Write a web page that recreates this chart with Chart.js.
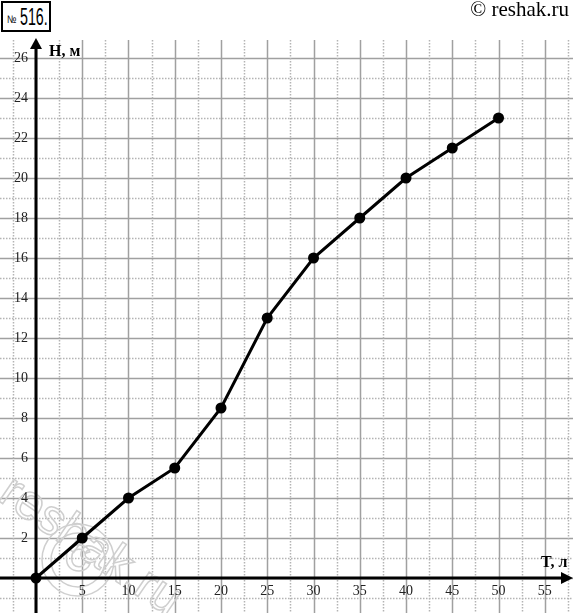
<!DOCTYPE html>
<html>
<head>
<meta charset="utf-8">
<script src="https://cdn.jsdelivr.net/npm/chart.js@4/dist/chart.umd.min.js"></script>
<style>
  body { margin: 0; background: #fff; }
  #wrap { position: relative; width: 573px; height: 613px; }
  #num {
    position: absolute; left: 1px; top: 1px; width: 46px; height: 27px;
    border: 2px solid #000; background: #fff; white-space: nowrap;
    font-family: "Liberation Sans", Arial, sans-serif; color: #000;
  }
  #num span { position: absolute; transform-origin: left top; line-height: 1; }
  #num .n { left: 4px; top: 11px; font-size: 11px; transform: scaleX(0.8); }
  #num .v { left: 17px; top: 3px; font-size: 23px; transform: scaleX(0.62); }
  #copy {
    position: absolute; right: 4px; top: -3px;
    font-family: "Liberation Serif", serif; font-size: 21px; color: #000;
  }
</style>
</head>
<body>
<div id="wrap">
  <canvas id="chart" width="573" height="613"></canvas>
  <div id="num"><span class="n">№</span><span class="v">516.</span></div>
  <div id="copy">© reshak.ru</div>
</div>
<script>
// Données : T (л) et H (м)
const tValues = [0, 5, 10, 15, 20, 25, 30, 35, 40, 45, 50];
const hValues = [0, 2, 4, 5.5, 8.5, 13, 16, 18, 20, 21.5, 23];
const xTickLabels = [5, 10, 15, 20, 25, 30, 35, 40, 45, 50, 55];
const yTickLabels = [2, 4, 6, 8, 10, 12, 14, 16, 18, 20, 22, 24, 26];

// Quadrillage, axes et textes dessinés avec les échelles du graphique
const paperPlugin = {
    id: 'paper',
    beforeDatasetsDraw(chart) {
        const ctx = chart.ctx;
        const x = chart.scales.x;
        const y = chart.scales.y;
        const W = chart.width, H = chart.height;
        const x0 = x.getPixelForValue(0);
        const y0 = y.getPixelForValue(0);
        ctx.save();

        // lignes horizontales
        for (let v = -1; v <= 26; v++) {
            const py = Math.round(y.getPixelForValue(v)) + 0.5;
            ctx.beginPath();
            if (v % 2 === 0) {
                ctx.setLineDash([]);
                ctx.strokeStyle = '#a0a0a0';
                ctx.lineWidth = 1.5;
            } else {
                ctx.setLineDash([1.5, 1.5]);
                ctx.strokeStyle = '#b4b4b4';
                ctx.lineWidth = 1.5;
            }
            ctx.moveTo(0, py);
            ctx.lineTo(W, py);
            ctx.stroke();
        }
        // lignes verticales
        const topY = y.getPixelForValue(26.9);
        for (let v = -2.5; v <= 57.5; v += 2.5) {
            const px = Math.round(x.getPixelForValue(v)) + 0.5;
            ctx.beginPath();
            if (v % 5 === 0) {
                ctx.setLineDash([]);
                ctx.strokeStyle = '#a0a0a0';
                ctx.lineWidth = 1.5;
            } else {
                ctx.setLineDash([1.5, 1.5]);
                ctx.strokeStyle = '#b4b4b4';
                ctx.lineWidth = 1.5;
            }
            ctx.moveTo(px, topY);
            ctx.lineTo(px, H);
            ctx.stroke();
        }
        ctx.setLineDash([]);

        // filigrane
        ctx.save();
        ctx.translate(78, 560);
        ctx.strokeStyle = '#cfcfcf';
        ctx.lineWidth = 1.5;
        ctx.beginPath();
        ctx.arc(0, 0, 36, 0, Math.PI * 2);
        ctx.stroke();
        ctx.beginPath();
        ctx.arc(0, 0, 27, 0, Math.PI * 2);
        ctx.stroke();
        ctx.font = 'bold 36px "Liberation Sans", sans-serif';
        ctx.textAlign = 'center';
        ctx.textBaseline = 'middle';
        ctx.strokeText('C', 0, 1);
        ctx.restore();
        ctx.save();
        ctx.translate(4, 488);
        ctx.rotate(0.6);
        ctx.font = '50px "Liberation Sans", sans-serif';
        ctx.strokeStyle = '#cfcfcf';
        ctx.lineWidth = 1.5;
        ctx.textBaseline = 'middle';
        ctx.strokeText('reshak.ru', 0, 0);
        ctx.restore();

        // axes
        ctx.strokeStyle = '#000';
        ctx.fillStyle = '#000';
        ctx.lineWidth = 3;
        ctx.beginPath();
        ctx.moveTo(x0, H);
        ctx.lineTo(x0, topY + 4);
        ctx.moveTo(0, y0);
        ctx.lineTo(W - 6, y0);
        ctx.stroke();
        ctx.beginPath();
        ctx.moveTo(x0, topY - 2);
        ctx.lineTo(x0 - 6, topY + 9);
        ctx.lineTo(x0 + 6, topY + 9);
        ctx.closePath();
        ctx.fill();
        ctx.beginPath();
        ctx.moveTo(W, y0);
        ctx.lineTo(W - 12, y0 - 6);
        ctx.lineTo(W - 12, y0 + 6);
        ctx.closePath();
        ctx.fill();

        // graduations
        ctx.font = '14px "Liberation Serif", serif';
        ctx.fillStyle = '#222';
        ctx.textAlign = 'center';
        ctx.textBaseline = 'middle';
        xTickLabels.forEach(v => {
            ctx.fillText(String(v), x.getPixelForValue(v), y0 + 13);
        });
        ctx.textAlign = 'right';
        yTickLabels.forEach(v => {
            ctx.fillText(String(v), x0 - 8, y.getPixelForValue(v));
        });

        // titres des axes
        ctx.fillStyle = '#000';
        ctx.font = 'bold 16px "Liberation Serif", serif';
        ctx.textAlign = 'left';
        ctx.textBaseline = 'alphabetic';
        ctx.fillText('H, м', x0 + 13, y.getPixelForValue(26) - 2);
        ctx.fillText('T, л', 541, y0 - 11);
        ctx.restore();
    }
};

new Chart(document.getElementById('chart'), {
    type: 'line',
    data: {
        datasets: [{
            data: tValues.map((t, i) => ({ x: t, y: hValues[i] })),
            borderColor: '#000',
            backgroundColor: '#000',
            borderWidth: 3,
            pointRadius: 4,
            pointBackgroundColor: '#000',
            tension: 0
        }]
    },
    options: {
        responsive: false,
        animation: false,
        devicePixelRatio: 1,
        layout: { padding: 0, autoPadding: false },
        plugins: {
            legend: { display: false },
            tooltip: { enabled: false }
        },
        scales: {
            x: { type: 'linear', display: false, min: -3.89, max: 58.05 },
            y: { type: 'linear', display: false, min: -1.75, max: 28.9 }
        }
    },
    plugins: [paperPlugin]
});
</script>
</body>
</html>
